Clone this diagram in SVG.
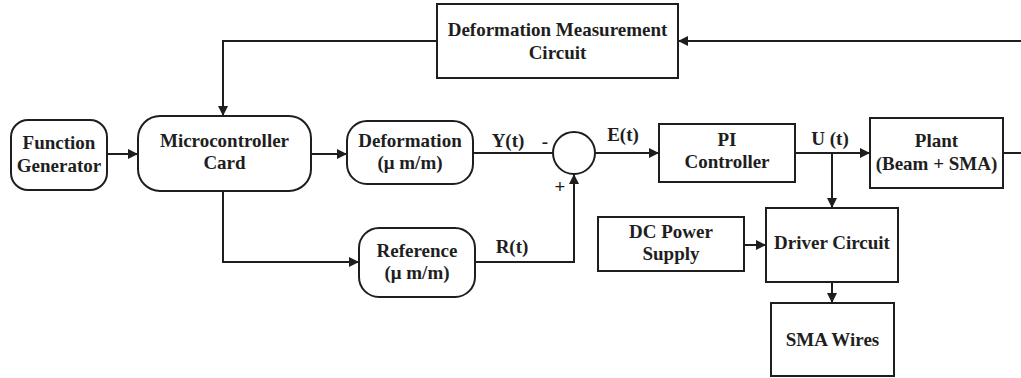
<svg xmlns="http://www.w3.org/2000/svg" width="1021" height="378" viewBox="0 0 1021 378">
<style>
.box{fill:#fff;stroke:#1e1e1e;stroke-width:2}
.c{fill:none;stroke:#1e1e1e;stroke-width:2}
.a{marker-end:url(#arr)}
text{font-family:'Liberation Serif','DejaVu Serif',serif;font-weight:bold;font-size:19px;fill:#1e1e1e;text-anchor:middle}
</style>
<defs>
<marker id="arr" markerUnits="userSpaceOnUse" markerWidth="11" markerHeight="11" refX="10" refY="5" orient="auto">
<path d="M0,0 L10,5 L0,10 z" fill="#1e1e1e"/>
</marker>
</defs>
<rect width="1021" height="378" fill="#fff"/>
<g id="connectors">
<line class="c a" x1="107" y1="154" x2="138" y2="154"/>
<line class="c a" x1="311" y1="154" x2="347" y2="154"/>
<line class="c" x1="473" y1="153" x2="553" y2="153"/>
<line class="c a" x1="595" y1="153" x2="659" y2="153"/>
<line class="c a" x1="795" y1="153" x2="870" y2="153"/>
<line class="c a" x1="832" y1="153" x2="832" y2="208"/>
<line class="c" x1="1003" y1="153" x2="1021" y2="153"/>
<line class="c a" x1="1021" y1="41" x2="678" y2="41"/>
<polyline class="c a" points="437,41 223,41 223,116"/>
<polyline class="c a" points="223,191 223,262 359,262"/>
<polyline class="c a" points="475,262 574,262 574,174"/>
<line class="c a" x1="744" y1="245" x2="766" y2="245"/>
<line class="c a" x1="832" y1="282" x2="832" y2="303"/>
</g>
<g id="labels" font-family="Liberation Serif, serif" font-weight="bold" font-size="19" fill="#1e1e1e" text-anchor="middle">
<text x="508" y="147">Y(t)</text>
<text x="623" y="141">E(t)</text>
<text x="830" y="145">U (t)</text>
<text x="512" y="253">R(t)</text>
<text x="545" y="148">-</text>
<text x="560" y="193" font-weight="normal" font-size="17">+</text>
</g>
<g id="function-generator">
<rect class="box" x="11" y="120" width="96" height="70" rx="17"/>
<text x="59" y="149">Function</text>
<text x="59" y="172">Generator</text>
</g>
<g id="microcontroller">
<rect class="box" x="138" y="116" width="173" height="75" rx="22"/>
<text x="224.5" y="147">Microcontroller</text>
<text x="224.5" y="169">Card</text>
</g>
<g id="deformation">
<rect class="box" x="347" y="121" width="126" height="63" rx="20"/>
<text x="410" y="147">Deformation</text>
<text x="410" y="169">(μ m/m)</text>
</g>
<g id="reference">
<rect class="box" x="359" y="228" width="116" height="69" rx="20"/>
<text x="417" y="257">Reference</text>
<text x="417" y="279">(μ m/m)</text>
</g>
<g id="measurement-circuit">
<rect class="box" x="437" y="4" width="241" height="74"/>
<text x="557.5" y="36">Deformation Measurement</text>
<text x="557.5" y="59">Circuit</text>
</g>
<g id="summing-junction">
<circle class="box" cx="574" cy="153" r="21"/>
</g>
<g id="pi-controller">
<rect class="box" x="659" y="124" width="136" height="58"/>
<text x="727" y="146">PI</text>
<text x="727" y="168">Controller</text>
</g>
<g id="plant">
<rect class="box" x="870" y="118" width="133" height="70"/>
<text x="936.5" y="147">Plant</text>
<text x="936.5" y="170">(Beam + SMA)</text>
</g>
<g id="dc-power-supply">
<rect class="box" x="598" y="217" width="146" height="54"/>
<text x="671" y="238">DC Power</text>
<text x="671" y="260">Supply</text>
</g>
<g id="driver-circuit">
<rect class="box" x="766" y="208" width="132" height="74"/>
<text x="832" y="249">Driver Circuit</text>
</g>
<g id="sma-wires">
<rect class="box" x="771" y="303" width="123" height="73"/>
<text x="832.5" y="346">SMA Wires</text>
</g>
</svg>
